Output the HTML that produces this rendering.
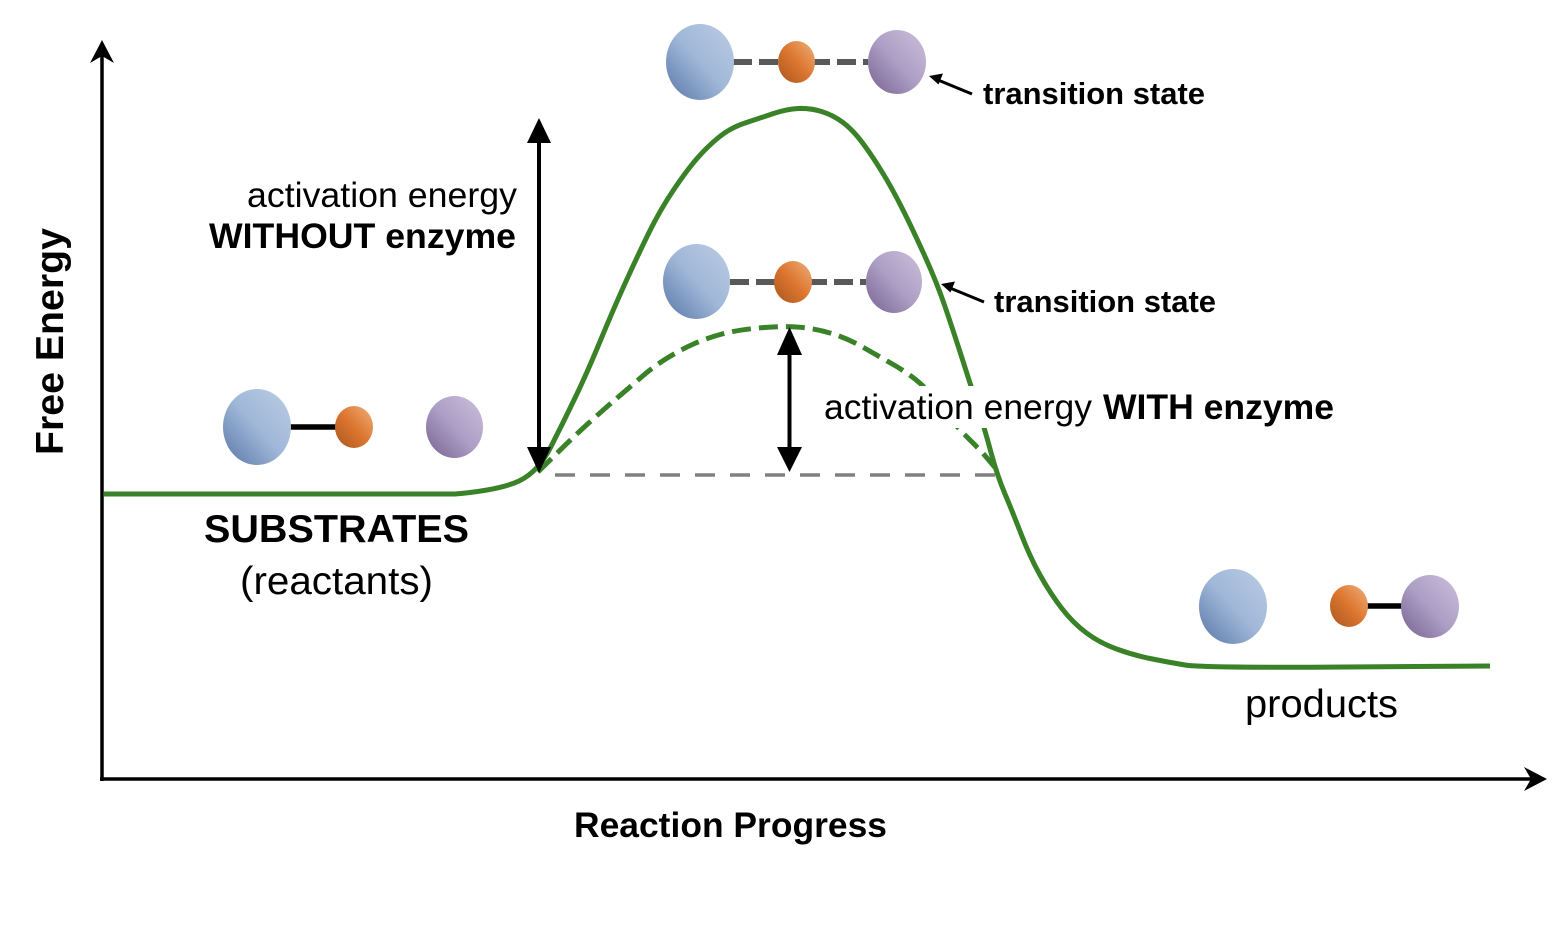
<!DOCTYPE html>
<html>
<head>
<meta charset="utf-8">
<style>
html,body{margin:0;padding:0;background:#fff;}
svg{display:block;}
text{font-family:"Liberation Sans",Arial,Helvetica,sans-serif;fill:#000;}
.b{font-weight:bold;}
</style>
</head>
<body>
<svg width="1568" height="934" viewBox="0 0 1568 934" xmlns="http://www.w3.org/2000/svg">
<defs>
<linearGradient id="gb" x1="1" y1="0" x2="0" y2="1">
<stop offset="0" stop-color="#bccde4"/>
<stop offset="0.5" stop-color="#a0b7d8"/>
<stop offset="1" stop-color="#5876a7"/>
</linearGradient>
<linearGradient id="go" x1="1" y1="0" x2="0" y2="1">
<stop offset="0" stop-color="#efb079"/>
<stop offset="0.5" stop-color="#dc7630"/>
<stop offset="1" stop-color="#a9561f"/>
</linearGradient>
<linearGradient id="gp" x1="1" y1="0" x2="0" y2="1">
<stop offset="0" stop-color="#ccbfdb"/>
<stop offset="0.5" stop-color="#ad9fc5"/>
<stop offset="1" stop-color="#77628f"/>
</linearGradient>
</defs>

<!-- axes -->
<line x1="102" y1="781" x2="102" y2="54" stroke="#000" stroke-width="3.5"/>
<polygon points="102,40 90,63 102,56 114,63" fill="#000"/>
<line x1="100" y1="779" x2="1532" y2="779" stroke="#000" stroke-width="3.5"/>
<polygon points="1547,779 1524,767 1531,779 1524,791" fill="#000"/>

<!-- gray dashed baseline -->
<line x1="555" y1="475" x2="997" y2="475" stroke="#808080" stroke-width="3.5" stroke-dasharray="20 15"/>

<!-- dashed enzyme curve -->
<path d="M538,472 Q570,440 586.5,425 Q603,410 616.5,398.5 Q630,387 641.5,377 Q653,367 666.5,358.5 Q680,350 693.5,344 Q707,338 722,334 Q737,330 758.5,328 Q780,326 796.5,327 Q813,328 830,333 Q847,338 863.5,347.5 Q880,357 891.5,363.5 Q903,370 913,377.5 Q923,385 931.5,395 Q940,405 948.5,416 Q957,427 965,435 Q973,443 981.5,451.5 L998,471" fill="none" stroke="#3a8228" stroke-width="5" stroke-dasharray="19 8"/>

<!-- main curve -->
<path d="M104,494 L455,494 Q500,490 519,481 Q538,472 550.5,447.5 Q563,423 575,398 Q587,373 600,341.5 Q613,310 625,283.5 Q637,257 648.5,233.5 Q660,210 673.5,190 Q687,170 697,158.5 Q707,147 718.5,137.5 Q730,128 745,123 Q760,118 773.5,113.5 Q787,109 798.5,108.5 Q810,108 821.5,111.5 Q833,115 843,122.5 Q853,130 863,143.5 Q873,157 883,173.5 Q893,190 903,210 Q913,230 925,256.5 Q937,283 945,306.5 Q953,330 961.5,356.5 Q970,383 977.5,406.5 Q985,430 991,452.5 Q997,475 1005,494 Q1013,513 1021.5,535 Q1030,557 1040,575 Q1050,593 1061.5,608 Q1073,623 1086.5,633 Q1100,643 1116.5,649 Q1133,655 1150,658.5 Q1167,662 1185,665 Q1203,668 1346.5,667 L1490,666" fill="none" stroke="#3a8228" stroke-width="5" stroke-linejoin="round"/>

<!-- white label box -->
<rect x="818" y="386" width="525" height="42" fill="#fff"/>

<!-- big arrow (without enzyme) -->
<line x1="539" y1="138" x2="539" y2="452" stroke="#000" stroke-width="4"/>
<polygon points="539,118 527,143 551,143" fill="#000"/>
<polygon points="539,473 527,447 551,447" fill="#000"/>

<!-- small arrow (with enzyme) -->
<line x1="789.5" y1="348" x2="789.5" y2="452" stroke="#000" stroke-width="4"/>
<polygon points="789.5,327 777,355 802,355" fill="#000"/>
<polygon points="789.5,472 777,447 802,447" fill="#000"/>

<!-- transition state arrows -->
<line x1="972" y1="94" x2="938" y2="80" stroke="#000" stroke-width="3"/>
<polygon points="929,76 943,73.5 938.5,84.5" fill="#000"/>
<line x1="984" y1="302" x2="950" y2="288" stroke="#000" stroke-width="3"/>
<polygon points="941,284 955,281.5 950.5,292.5" fill="#000"/>

<!-- top transition state molecule -->
<line x1="733" y1="62" x2="868" y2="62" stroke="#595959" stroke-width="6" stroke-dasharray="19 7"/>
<ellipse cx="700" cy="62" rx="34" ry="38" fill="url(#gb)"/>
<ellipse cx="796.5" cy="62" rx="18.5" ry="21" fill="url(#go)"/>
<ellipse cx="897" cy="62" rx="29" ry="32" fill="url(#gp)"/>

<!-- middle transition state molecule -->
<line x1="730" y1="282" x2="866" y2="282" stroke="#595959" stroke-width="6" stroke-dasharray="19 7"/>
<ellipse cx="696.5" cy="281.5" rx="33.5" ry="37.5" fill="url(#gb)"/>
<ellipse cx="793" cy="282" rx="19" ry="21" fill="url(#go)"/>
<ellipse cx="894" cy="282" rx="28" ry="31" fill="url(#gp)"/>

<!-- substrates molecules -->
<line x1="289" y1="427" x2="337" y2="427" stroke="#000" stroke-width="5.5"/>
<ellipse cx="257" cy="427" rx="34" ry="38" fill="url(#gb)"/>
<ellipse cx="354" cy="427" rx="19" ry="21" fill="url(#go)"/>
<ellipse cx="454.5" cy="427" rx="28.5" ry="31" fill="url(#gp)"/>

<!-- products molecules -->
<line x1="1366" y1="606" x2="1403" y2="606" stroke="#000" stroke-width="5.5"/>
<ellipse cx="1233" cy="606.5" rx="34" ry="37.5" fill="url(#gb)"/>
<ellipse cx="1349" cy="606" rx="19" ry="21" fill="url(#go)"/>
<ellipse cx="1430" cy="606.5" rx="29" ry="31.5" fill="url(#gp)"/>

<!-- labels -->
<text x="247" y="207" font-size="35.5" textLength="270" lengthAdjust="spacingAndGlyphs">activation energy</text>
<text x="209" y="248" font-size="35.5" class="b" textLength="307" lengthAdjust="spacingAndGlyphs">WITHOUT enzyme</text>

<text x="824" y="419" font-size="35.5" textLength="268" lengthAdjust="spacingAndGlyphs">activation energy</text>
<text x="1103" y="419" font-size="35.5" class="b" textLength="231" lengthAdjust="spacingAndGlyphs">WITH enzyme</text>

<text x="983" y="104" font-size="31" class="b" textLength="222" lengthAdjust="spacingAndGlyphs">transition state</text>
<text x="994" y="312" font-size="31" class="b" textLength="222" lengthAdjust="spacingAndGlyphs">transition state</text>

<text x="204" y="542" font-size="39" class="b" textLength="265" lengthAdjust="spacingAndGlyphs">SUBSTRATES</text>
<text x="240" y="594" font-size="39" textLength="193" lengthAdjust="spacingAndGlyphs">(reactants)</text>

<text x="1245" y="717" font-size="39" textLength="153" lengthAdjust="spacingAndGlyphs">products</text>

<text x="574" y="837" font-size="35.5" class="b" textLength="313" lengthAdjust="spacingAndGlyphs">Reaction Progress</text>

<text transform="translate(63,455) rotate(-90)" font-size="39" class="b" textLength="227" lengthAdjust="spacingAndGlyphs">Free Energy</text>
</svg>
</body>
</html>
